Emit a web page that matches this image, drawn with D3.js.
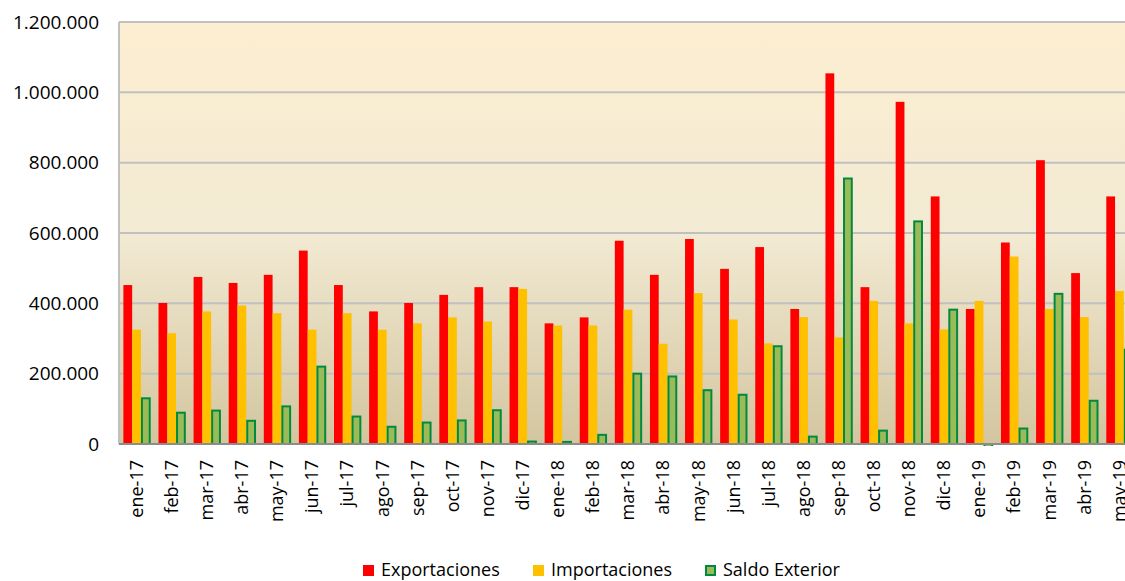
<!DOCTYPE html>
<html>
<head>
<meta charset="utf-8">
<script src="https://cdn.jsdelivr.net/npm/d3@7"></script>
<style>
  body { margin: 0; background: #fff; }
  svg { display: block; font-family: "Open Sans", sans-serif; }
</style>
</head>
<body>
<div class="chart"></div>
<script>
// meses
var months = ["ene-17","feb-17","mar-17","abr-17","may-17","jun-17","jul-17","ago-17","sep-17","oct-17","nov-17","dic-17",
              "ene-18","feb-18","mar-18","abr-18","may-18","jun-18","jul-18","ago-18","sep-18","oct-18","nov-18","dic-18",
              "ene-19","feb-19","mar-19","abr-19","may-19"];

var exportaciones = [452000, 401000, 475000, 458000, 481000, 550000, 452000, 377000, 401000, 424000, 446000, 446000,
                     343000, 360000, 578000, 481000, 583000, 498000, 560000, 384000, 1054000, 446000, 973000, 704000,
                     384000, 573000, 807000, 486000, 704000];

var importaciones = [325000, 315000, 377000, 394000, 372000, 325000, 372000, 325000, 343000, 360000, 348000, 441000,
                     337000, 337000, 382000, 285000, 429000, 354000, 286000, 361000, 303000, 407000, 343000, 326000,
                     407000, 533000, 384000, 361000, 435000];

var saldo = [130000, 89000, 95000, 66000, 107000, 220000, 78000, 49000, 61000, 67000, 96000, 7000,
             6000, 26000, 200000, 192000, 153000, 140000, 278000, 21000, 755000, 38000, 633000, 382000,
             -23000, 44000, 427000, 123000, 268000];

var seriesNames = ["Exportaciones", "Importaciones", "Saldo Exterior"];
var yTicks = [0, 200000, 400000, 600000, 800000, 1000000, 1200000];

draw();

function draw() {
  var width = 1125, height = 581;
  var left = 119, right = 1137, top = 22, bottom = 444;

  var fill = { "Exportaciones": "#ff0000", "Importaciones": "#ffc000", "Saldo Exterior": "#9bbb59" };

  var es = d3.formatLocale({ decimal: ",", thousands: ".", grouping: [3], currency: ["", " €"] });
  var fmt = es.format(",d");

  var svg = d3.select(".chart")
          .append("svg")
          .attr("width", width)
          .attr("height", height);

  var defs = svg.append("defs");
  var grad = defs.append("linearGradient")
          .attr("id", "bg")
          .attr("x1", 0).attr("y1", 0).attr("x2", 0).attr("y2", 1);
  grad.append("stop").attr("offset", "0%").attr("stop-color", "#fdeed1");
  grad.append("stop").attr("offset", "50%").attr("stop-color", "#f2ead3");
  grad.append("stop").attr("offset", "100%").attr("stop-color", "#d3c59f");

  defs.append("clipPath").attr("id", "plot")
      .append("rect")
      .attr("x", left).attr("y", top)
      .attr("width", right - left).attr("height", bottom - top + 2);

  var x0 = d3.scaleBand().domain(months).range([left, right]).padding(0);
  var x1 = d3.scaleBand().domain(seriesNames)
          .range([x0.bandwidth() * 0.125, x0.bandwidth() * 0.875]);
  var y = d3.scaleLinear().domain([0, 1200000]).range([bottom, top]);

  // fondo
  svg.append("rect")
      .attr("x", left).attr("y", top)
      .attr("width", right - left).attr("height", bottom - top)
      .attr("fill", "url(#bg)");

  // rejilla
  svg.append("g")
      .selectAll("line")
      .data(yTicks.slice(1))
      .enter()
      .append("line")
      .attr("x1", left).attr("x2", right)
      .attr("y1", function(d) { return y(d); })
      .attr("y2", function(d) { return y(d); })
      .attr("stroke", "#c0c0c0")
      .attr("stroke-width", 2);

  svg.append("line")
      .attr("x1", left).attr("x2", left)
      .attr("y1", top).attr("y2", bottom)
      .attr("stroke", "#c0c0c0")
      .attr("stroke-width", 2);

  var rows = months.map(function(m, i) {
    return { month: m, values: [
      { key: "Exportaciones", value: exportaciones[i] },
      { key: "Importaciones", value: importaciones[i] },
      { key: "Saldo Exterior", value: saldo[i] }
    ]};
  });

  var group = svg.append("g")
          .attr("clip-path", "url(#plot)")
          .selectAll(".mes")
          .data(rows)
          .enter()
          .append("g")
          .attr("class", "mes")
          .attr("transform", function(d) { return "translate(" + x0(d.month) + ",0)"; });

  group.selectAll("rect")
      .data(function(d) { return d.values; })
      .enter()
      .append("rect")
      .attr("x", function(d) { return x1(d.key) + (d.key == "Saldo Exterior" ? 1 : 0); })
      .attr("width", function(d) { return d.key == "Saldo Exterior" ? x1.bandwidth() - 1 : x1.bandwidth(); })
      .attr("y", function(d) { return y(Math.max(0, d.value)); })
      .attr("height", function(d) { return Math.abs(y(d.value) - y(0)); })
      .attr("fill", function(d) { return fill[d.key]; })
      .attr("stroke", function(d) { return d.key == "Saldo Exterior" ? "#008a3e" : "none"; })
      .attr("stroke-width", 2);

  // eje x
  svg.append("line")
      .attr("x1", left).attr("x2", right)
      .attr("y1", bottom).attr("y2", bottom)
      .attr("stroke", "#8c8c8c")
      .attr("stroke-width", 2);

  svg.append("g")
      .selectAll("text")
      .data(months)
      .enter()
      .append("text")
      .attr("transform", function(d) {
        return "translate(" + (x0(d) + x0.bandwidth() / 2) + "," + (bottom + 16) + ") rotate(-90)";
      })
      .attr("dy", "0.35em")
      .attr("text-anchor", "end")
      .style("font-size", "18px")
      .attr("fill", "#000")
      .text(function(d) { return d; });

  // eje y
  var yAxis = svg.append("g")
          .attr("transform", "translate(" + left + ",0)")
          .call(d3.axisLeft(y).tickValues(yTicks).tickSize(0).tickPadding(20).tickFormat(fmt));
  yAxis.select(".domain").remove();
  yAxis.selectAll("text")
      .style("font-family", "Open Sans, sans-serif")
      .style("font-size", "19px")
      .attr("fill", "#000");

  // leyenda
  var legendX = [363, 533, 705];
  var legend = svg.append("g")
          .selectAll(".ley")
          .data(seriesNames)
          .enter()
          .append("g")
          .attr("class", "ley")
          .attr("transform", function(d, i) { return "translate(" + legendX[i] + ",565)"; });

  legend.append("rect")
      .attr("x", function(d) { return d == "Saldo Exterior" ? 1 : 0; })
      .attr("y", function(d) { return d == "Saldo Exterior" ? 1 : 0; })
      .attr("width", function(d) { return d == "Saldo Exterior" ? 9 : 11; })
      .attr("height", function(d) { return d == "Saldo Exterior" ? 9 : 11; })
      .attr("fill", function(d) { return fill[d]; })
      .attr("stroke", function(d) { return d == "Saldo Exterior" ? "#008a3e" : "none"; })
      .attr("stroke-width", 2);

  legend.append("text")
      .attr("x", 18)
      .attr("y", 5)
      .attr("dy", "0.35em")
      .style("font-size", "18px")
      .attr("fill", "#000")
      .text(function(d) { return d; });
}
</script>
</body>
</html>
